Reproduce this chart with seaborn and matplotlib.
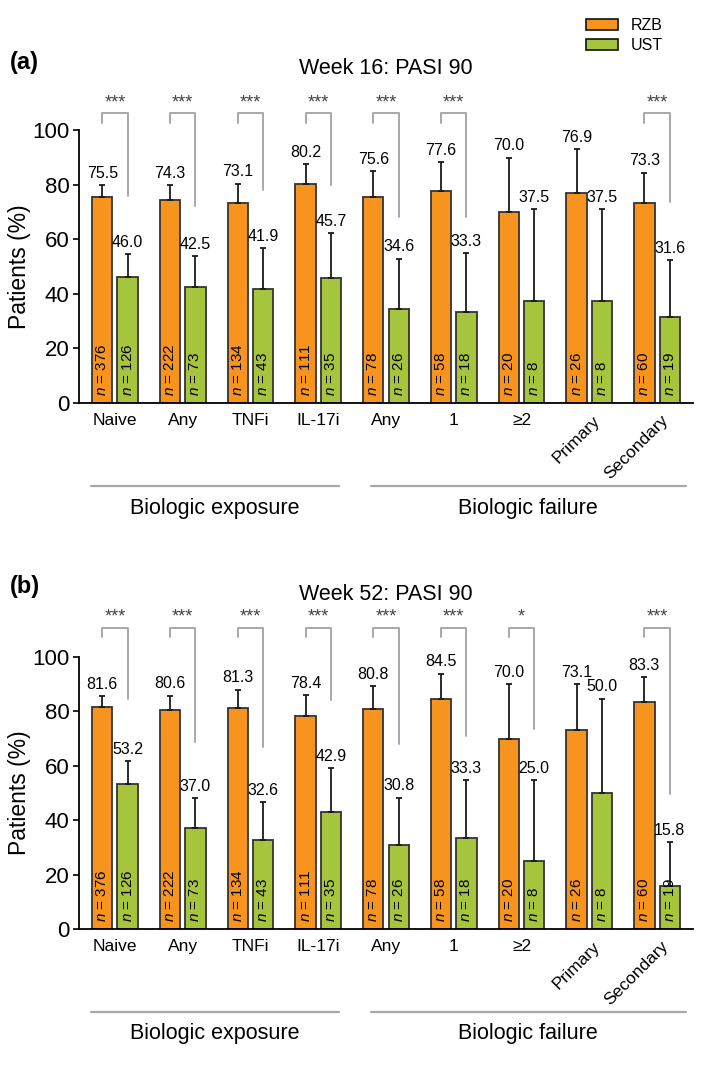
import matplotlib
matplotlib.use('Agg')
import matplotlib.pyplot as plt
import seaborn as sns
import pandas as pd
import numpy as np
from matplotlib.patches import Patch
from matplotlib.transforms import ScaledTranslation

# subgroups (two separate "Any" categories, so slots are numbered)
labels = ['Naive', 'Any', 'TNFi', 'IL-17i', 'Any', '1', '≥2', 'Primary', 'Secondary']
n_rzb = [376, 222, 134, 111, 78, 58, 20, 26, 60]
n_ust = [126, 73, 43, 35, 26, 18, 8, 8, 19]

# week 16
rzb16 = [75.5, 74.3, 73.1, 80.2, 75.6, 77.6, 70.0, 76.9, 73.3]
ust16 = [46.0, 42.5, 41.9, 45.7, 34.6, 33.3, 37.5, 37.5, 31.6]
rzb16_hi = [79.8, 79.8, 80.4, 87.5, 85.0, 88.1, 89.9, 92.9, 84.4]
ust16_hi = [54.6, 53.8, 56.6, 62.1, 52.9, 55.0, 70.9, 70.9, 52.3]
sig16 = ['***', '***', '***', '***', '***', '***', '', '', '***']
bracket_end16 = [75.8, 72.1, 78.0, 79.8, 68.2, 68.2, None, None, 73.7]

# week 52
rzb52 = [81.6, 80.6, 81.3, 78.4, 80.8, 84.5, 70.0, 73.1, 83.3]
ust52 = [53.2, 37.0, 32.6, 42.9, 30.8, 33.3, 25.0, 50.0, 15.8]
rzb52_hi = [85.5, 85.8, 88.0, 86.0, 89.4, 93.9, 90.1, 90.1, 92.6]
ust52_hi = [61.8, 48.0, 46.6, 59.3, 48.3, 54.8, 54.8, 84.7, 31.9]
sig52 = ['***', '***', '***', '***', '***', '***', '*', '', '***']
bracket_end52 = [84.4, 68.9, 67.0, 84.2, 67.9, 71.0, 73.4, None, 49.5]

ORANGE = '#F7941E'
GREEN = '#A6C43C'
EDGE = '#333333'
GRAY = '#A8A8A8'

sns.set_style('ticks')
plt.rcParams['font.family'] = ['Liberation Sans', 'DejaVu Sans']
plt.rcParams['mathtext.fontset'] = 'custom'
plt.rcParams['mathtext.rm'] = 'Liberation Sans'
plt.rcParams['mathtext.it'] = 'Liberation Sans:italic'
for k in ['text.color', 'axes.labelcolor', 'xtick.color', 'ytick.color']:
    plt.rcParams[k] = 'black'

fig = plt.figure(figsize=(7.09, 10.87), dpi=100)
ax_a = fig.add_axes([0.1114, 0.6293, 0.866, 0.2511])
ax_b = fig.add_axes([0.1114, 0.1454, 0.866, 0.2502])


def draw_panel(ax, rzb, ust, rzb_hi, ust_hi, sig, bend, br_top, br_left, star_y):
    df = pd.DataFrame({
        'slot': list(range(len(labels))) * 2,
        'pct': rzb + ust,
        'drug': ['RZB'] * len(rzb) + ['UST'] * len(ust),
    })
    sns.barplot(data=df, x='slot', y='pct', hue='drug', palette={'RZB': ORANGE, 'UST': GREEN},
                width=0.75, gap=0.2, saturation=1, edgecolor=EDGE, linewidth=1.3,
                errorbar=None, legend=False, ax=ax, zorder=2)
    ax.set_xlim(-0.53, 8.53)
    ax.set_ylim(0, 100)
    ax.set_yticks([0, 20, 40, 60, 80, 100])
    ax.tick_params(axis='y', labelsize=16, length=4, width=1.2, pad=3)
    ax.tick_params(axis='x', length=0, labelsize=12.5, pad=7)
    ax.set_xlabel('')
    ax.set_ylabel('Patients (%)', fontsize=16.5, labelpad=1)
    sns.despine(ax=ax)
    for s in ['left', 'bottom']:
        ax.spines[s].set_linewidth(1.3)
        ax.spines[s].set_color('black')

    xr = np.array([b.get_x() + b.get_width() / 2 for b in ax.containers[0]])
    xu = np.array([b.get_x() + b.get_width() / 2 for b in ax.containers[1]])

    for xs, vals, his, ns in [(xr, rzb, rzb_hi, n_rzb), (xu, ust, ust_hi, n_ust)]:
        vals = np.array(vals)
        his = np.array(his)
        ax.errorbar(xs, vals, yerr=[np.zeros_like(vals), his - vals], fmt='none',
                    ecolor='#1a1a1a', elinewidth=1.3, capsize=2.5, capthick=1.3, zorder=3)
        for x, v, h, n in zip(xs, vals, his, ns):
            ax.annotate(f'{v:.1f}', (x, h), xytext=(0, 3), textcoords='offset points',
                        ha='center', va='bottom', fontsize=11.5)
            ax.text(x, 2.5, f'$n$ = {n}', rotation=90, ha='center', va='bottom',
                    fontsize=11, zorder=4)

    for i, s in enumerate(sig):
        if not s:
            continue
        ax.plot([xr[i], xr[i], xu[i], xu[i]], [br_left, br_top, br_top, bend[i]],
                color=GRAY, lw=1.4, clip_on=False, zorder=1)
        ax.text((xr[i] + xu[i]) / 2, star_y, s, ha='center', va='center',
                fontsize=13, color='#444444', clip_on=False)

    ax.set_xticks(range(len(labels)))
    ax.set_xticklabels(labels)
    for lab in ax.get_xticklabels()[7:]:
        lab.set_rotation(45)
        lab.set_rotation_mode('anchor')
        lab.set_ha('right')
        lab.set_va('top')
        lab.set_transform(lab.get_transform() + ScaledTranslation(0.03, 0.0, fig.dpi_scale_trans))

    tr = ax.get_xaxis_transform()
    ax.plot([-0.35, 3.31], [-0.305, -0.305], color=GRAY, lw=1.6, transform=tr, clip_on=False)
    ax.plot([3.78, 8.43], [-0.305, -0.305], color=GRAY, lw=1.6, transform=tr, clip_on=False)
    ax.text(1.48, -0.385, 'Biologic exposure', transform=tr, ha='center', va='center', fontsize=15.5)
    ax.text(6.1, -0.385, 'Biologic failure', transform=tr, ha='center', va='center', fontsize=15.5)


draw_panel(ax_a, rzb16, ust16, rzb16_hi, ust16_hi, sig16, bracket_end16, 106.2, 102.6, 109.9)
draw_panel(ax_b, rzb52, ust52, rzb52_hi, ust52_hi, sig52, bracket_end52, 110.6, 107.2, 114.7)

fig.text(0.014, 1 - 62 / 1087, '(a)', fontsize=17, fontweight='bold', va='center')
fig.text(0.544, 1 - 68 / 1087, 'Week 16: PASI 90', fontsize=15.5, ha='center', va='center')
fig.text(0.014, 1 - 587 / 1087, '(b)', fontsize=17, fontweight='bold', va='center')
fig.text(0.544, 1 - 594 / 1087, 'Week 52: PASI 90', fontsize=15.5, ha='center', va='center')

handles = [Patch(facecolor=ORANGE, edgecolor='#111111', linewidth=1.2, label='RZB'),
           Patch(facecolor=GREEN, edgecolor='#111111', linewidth=1.2, label='UST')]
fig.legend(handles=handles, loc='upper left', bbox_to_anchor=(586 / 709, 1 - 18 / 1087),
           frameon=False, fontsize=11.5, handlelength=2.0, handleheight=0.7,
           labelspacing=0.3, handletextpad=0.8, borderpad=0, borderaxespad=0)

fig.savefig('out.png', dpi=100)
